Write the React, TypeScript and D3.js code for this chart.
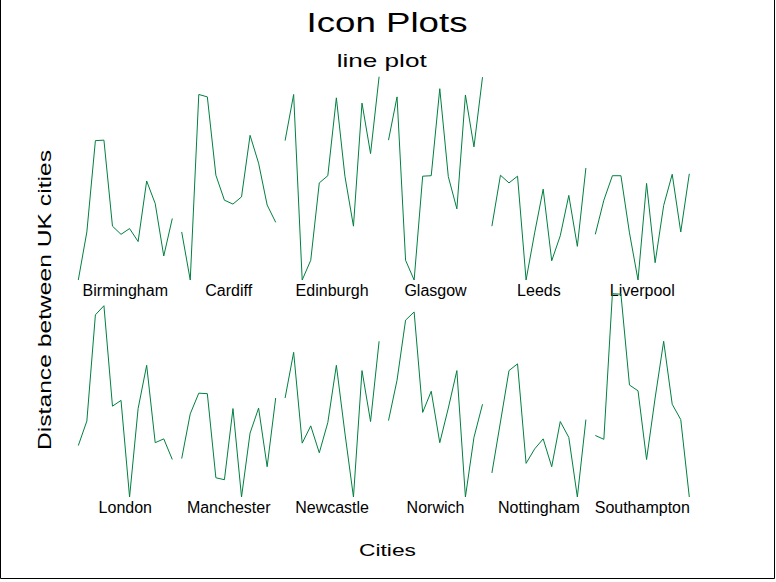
import React from "react";
import * as d3 from "d3";

const cities = [
  "Birmingham", "Cardiff", "Edinburgh", "Glasgow", "Leeds", "Liverpool",
  "London", "Manchester", "Newcastle", "Norwich", "Nottingham", "Southampton",
];

// Distance from each city to every city (same order as `cities`)
const birmingham = [0, 100, 290, 291, 112, 95, 107, 80, 206, 159, 50, 128];
const cardiff = [100, 0, 386, 381, 218, 166, 158, 173, 301, 243, 156, 120];
const edinburgh = [290, 386, 0, 41, 202, 217, 379, 216, 112, 368, 263, 423];
const glasgow = [291, 381, 41, 0, 216, 217, 398, 215, 148, 385, 277, 422];
const leeds = [112, 218, 202, 216, 0, 98, 189, 40, 92, 176, 70, 233];
const liverpool = [95, 166, 217, 217, 98, 0, 201, 36, 155, 220, 100, 221];
const london = [107, 158, 379, 398, 189, 201, 0, 184, 274, 113, 121, 78];
const manchester = [80, 173, 216, 215, 40, 36, 184, 0, 133, 185, 63, 206];
const newcastle = [206, 301, 112, 148, 92, 155, 274, 133, 0, 263, 157, 324];
const norwich = [159, 243, 368, 385, 176, 220, 113, 185, 263, 0, 124, 193];
const nottingham = [50, 156, 263, 277, 70, 100, 121, 63, 157, 124, 0, 161];
const southampton = [128, 120, 423, 422, 233, 221, 78, 206, 324, 193, 161, 0];

const series = [
  birmingham, cardiff, edinburgh, glasgow, leeds, liverpool,
  london, manchester, newcastle, norwich, nottingham, southampton,
];

const title = "Icon Plots";
const subtitle = "line plot";
const xTitle = "Cities";
const yTitle = "Distance between UK cities";

const W = 776;
const H = 582;
const COLS = 6;
const iconW = 94;
const iconH = 203.3;
const font = "Arial, 'Liberation Sans', sans-serif";

export default function App() {
  const maxVal = d3.max(series.flat()) as number;
  const colX = d3.scaleLinear().domain([0, COLS - 1]).range([78.3, 78.3 + (COLS - 1) * 103.4]);
  const rowBase = d3.scaleLinear().domain([0, 1]).range([280, 497]);
  const yScale = d3.scaleLinear().domain([0, maxVal]).range([0, iconH]);

  return (
    <svg
      width={W}
      height={H}
      style={{ position: "absolute", left: 0, top: 0, background: "#fff" }}
      fontFamily={font}
    >
      <rect x={0} y={0} width={W} height={H} fill="#fff" />
      <path d="M0.5,0 V578.5 H774.5 V0" fill="none" stroke="#000" strokeWidth={1} />
      <text x={387} y={32.3} fontSize={27} textAnchor="middle" textLength={161} lengthAdjust="spacingAndGlyphs">
        {title}
      </text>
      <text x={381.7} y={66.7} fontSize={18.5} textAnchor="middle" textLength={90} lengthAdjust="spacingAndGlyphs">
        {subtitle}
      </text>
      <text x={387.5} y={556} fontSize={17} textAnchor="middle" textLength={57} lengthAdjust="spacingAndGlyphs">
        {xTitle}
      </text>
      <text
        transform="translate(50.5,300) rotate(-90)"
        fontSize={17.5}
        textAnchor="middle"
        textLength={300}
        lengthAdjust="spacingAndGlyphs"
      >
        {yTitle}
      </text>
      {series.map((vals, i) => {
        const col = i % COLS;
        const row = Math.floor(i / COLS);
        const x0 = colX(col);
        const base = rowBase(row);
        const x = d3.scaleLinear().domain([0, vals.length - 1]).range([x0, x0 + iconW]);
        const line = d3
          .line<number>()
          .x((_, j) => x(j))
          .y((v) => base - yScale(v));
        return (
          <g key={cities[i]}>
            <path d={line(vals) || ""} fill="none" stroke="#008040" strokeWidth={1} />
            <text x={x0 + iconW / 2} y={base + 16} fontSize={16} textAnchor="middle" fill="#000">
              {cities[i]}
            </text>
          </g>
        );
      })}
    </svg>
  );
}
